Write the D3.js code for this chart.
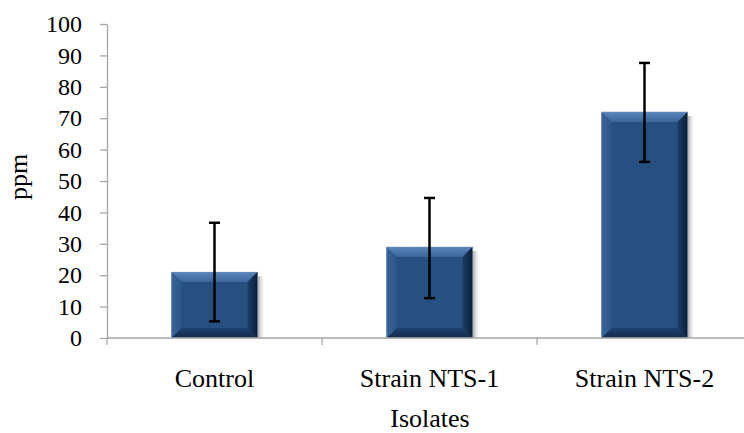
<!DOCTYPE html>
<html>
<head>
<meta charset="utf-8">
<script src="https://cdn.jsdelivr.net/npm/d3@7"></script>
<style>
html,body{margin:0;padding:0;background:#fff;}
</style>
</head>
<body>
<svg id="chart" width="744" height="433"></svg>
<script>
const categories = ["Control", "Strain NTS-1", "Strain NTS-2"];
const values = [21, 29, 72];
const errLower = [5.3, 12.7, 56.1];
const errUpper = [36.7, 44.6, 87.6];
const yTicks = [0, 10, 20, 30, 40, 50, 60, 70, 80, 90, 100];

const FONT = "'Liberation Serif', Tinos, 'Times New Roman', 'DejaVu Serif', serif";
const svg = d3.select("#chart");
const axisColor = "#a6a6a6";

const x = d3.scaleBand().domain(categories).range([107, 752]).paddingInner(0.6).paddingOuter(0.3);
const y = d3.scaleLinear().domain([0, 100]).range([338, 24]);

const defs = svg.append("defs");
const sh = defs.append("linearGradient").attr("id", "shadow").attr("x1", 0).attr("x2", 1).attr("y1", 0).attr("y2", 0);
sh.append("stop").attr("offset", 0).attr("stop-color", "#888").attr("stop-opacity", 0.8);
sh.append("stop").attr("offset", 1).attr("stop-color", "#fff").attr("stop-opacity", 0);
const topG = defs.append("linearGradient").attr("id", "topG").attr("x1", 0).attr("x2", 0).attr("y1", 0).attr("y2", 1);
topG.append("stop").attr("offset", 0).attr("stop-color", "#5a86ba");
topG.append("stop").attr("offset", 1).attr("stop-color", "#3a669c");
const botG = defs.append("linearGradient").attr("id", "botG").attr("x1", 0).attr("x2", 0).attr("y1", 0).attr("y2", 1);
botG.append("stop").attr("offset", 0).attr("stop-color", "#1f4270");
botG.append("stop").attr("offset", 1).attr("stop-color", "#13294a");
const rightG = defs.append("linearGradient").attr("id", "rightG").attr("x1", 0).attr("x2", 1).attr("y1", 0).attr("y2", 0);
rightG.append("stop").attr("offset", 0).attr("stop-color", "#1d3e69");
rightG.append("stop").attr("offset", 1).attr("stop-color", "#0c1f38");
const leftG = defs.append("linearGradient").attr("id", "leftG").attr("x1", 0).attr("x2", 1).attr("y1", 0).attr("y2", 0);
leftG.append("stop").attr("offset", 0).attr("stop-color", "#3a659b");
leftG.append("stop").attr("offset", 1).attr("stop-color", "#2c5688");

// bars
const bars = svg.append("g").selectAll("g").data(categories).join("g");
bars.each(function(c, i) {
  const g = d3.select(this);
  const x0 = x(c), x1 = x(c) + x.bandwidth();
  const y0 = y(values[i]), y1 = y(0);
  const b = 10;
  g.append("rect").attr("x", x1).attr("y", y0 + 4).attr("width", 8).attr("height", y1 - y0 - 4).attr("fill", "url(#shadow)");
  g.append("rect").attr("x", x0).attr("y", y0).attr("width", x1 - x0).attr("height", y1 - y0).attr("fill", "#26507f");
  const bb = Math.min(b, (y1 - y0) / 2);
  const poly = (pts, fill) => g.append("polygon").attr("points", pts.map(p => p.join(",")).join(" ")).attr("fill", fill);
  poly([[x0, y0], [x1, y0], [x1 - b, y0 + bb], [x0 + b, y0 + bb]], "url(#topG)");
  poly([[x0, y1], [x1, y1], [x1 - b, y1 - bb], [x0 + b, y1 - bb]], "url(#botG)");
  poly([[x0, y0], [x0 + b, y0 + bb], [x0 + b, y1 - bb], [x0, y1]], "url(#leftG)");
  poly([[x1, y0], [x1 - b, y0 + bb], [x1 - b, y1 - bb], [x1, y1]], "url(#rightG)");
  g.append("rect").attr("x", x0).attr("y", y0).attr("width", x1 - x0).attr("height", y1 - y0)
    .attr("fill", "none").attr("stroke", "#8aa0bb").attr("stroke-width", 0.6).attr("stroke-opacity", 0.6);
});

// error bars
const eb = svg.append("g").attr("stroke", "#000").attr("stroke-width", 2.5);
categories.forEach((c, i) => {
  const cx = x(c) + x.bandwidth() / 2;
  eb.append("line").attr("x1", cx).attr("x2", cx).attr("y1", y(errUpper[i])).attr("y2", y(errLower[i]));
  eb.append("line").attr("x1", cx - 5.5).attr("x2", cx + 5.5).attr("y1", y(errUpper[i])).attr("y2", y(errUpper[i]));
  eb.append("line").attr("x1", cx - 5.5).attr("x2", cx + 5.5).attr("y1", y(errLower[i])).attr("y2", y(errLower[i]));
});

// y axis
const yAxis = svg.append("g").attr("transform", "translate(107,0)")
  .call(d3.axisLeft(y).tickValues(yTicks).tickSize(7).tickPadding(18).tickSizeOuter(0));
yAxis.attr("font-family", null).attr("font-size", null);
yAxis.select(".domain").attr("stroke", axisColor).attr("stroke-width", 1.3);
yAxis.selectAll(".tick line").attr("stroke", axisColor).attr("stroke-width", 1.3);
yAxis.selectAll(".tick text").style("font-size", "24px").style("font-family", FONT).attr("fill", "#000");

// x axis
const xAxisScale = d3.scaleLinear().domain([0, 3]).range([107, 752]);
svg.append("line").attr("x1", 107).attr("x2", 744).attr("y1", y(0)).attr("y2", y(0)).attr("stroke", axisColor).attr("stroke-width", 1.3);
svg.append("g").selectAll("line").data([0, 1, 2]).join("line")
  .attr("x1", d => xAxisScale(d)).attr("x2", d => xAxisScale(d))
  .attr("y1", y(0)).attr("y2", y(0) + 7).attr("stroke", axisColor).attr("stroke-width", 1.3);

svg.append("g").selectAll("text").data(categories).join("text")
  .attr("x", d => x(d) + x.bandwidth() / 2).attr("y", 387)
  .attr("text-anchor", "middle").style("font-size", "26px").style("font-family", FONT).text(d => d);

svg.append("text").attr("x", 430).attr("y", 427).attr("text-anchor", "middle")
  .style("font-size", "26px").style("font-family", FONT).text("Isolates");
svg.append("text").attr("transform", "translate(27,177) rotate(-90)").attr("text-anchor", "middle")
  .style("font-size", "26px").style("font-family", FONT).text("ppm");
</script>
</body>
</html>
